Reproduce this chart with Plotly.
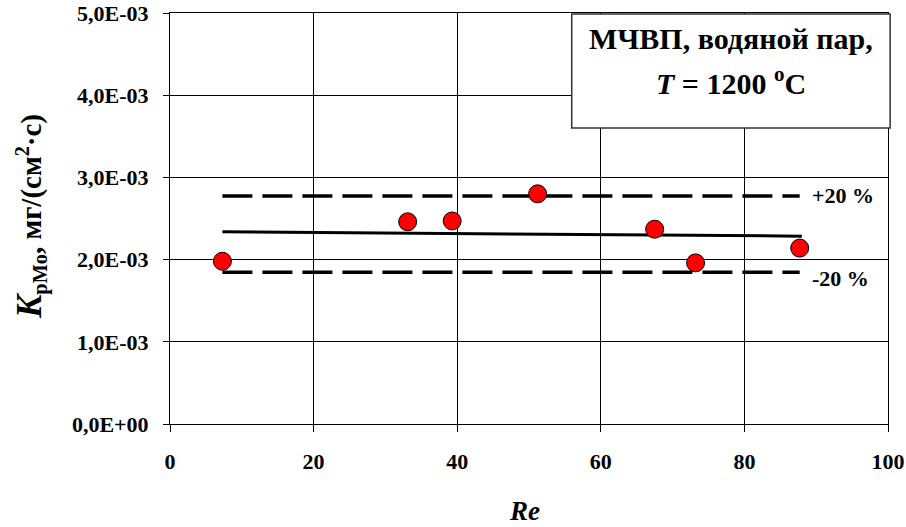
import plotly.graph_objects as go

# Data
re_vals = [7.3, 33.1, 39.3, 51.2, 67.5, 73.2, 87.7]
k_vals = [1.98e-3, 2.46e-3, 2.47e-3, 2.80e-3, 2.37e-3, 1.96e-3, 2.14e-3]

trend_x = [7.3, 88.0]
trend_y = [2.34e-3, 2.285e-3]

band_x = [7.3, 87.7]
upper_y = [2.775e-3, 2.775e-3]
lower_y = [1.845e-3, 1.845e-3]

x_ticks = [0, 20, 40, 60, 80, 100]
y_ticks = [0, 1e-3, 2e-3, 3e-3, 4e-3, 5e-3]
y_ticktext = ["0,0E+00", "1,0E-03", "2,0E-03", "3,0E-03", "4,0E-03", "5,0E-03"]

FONT = "Liberation Serif"

fig = go.Figure()

fig.add_trace(go.Scatter(x=band_x, y=upper_y, mode="lines",
                         line=dict(color="black", width=3.5, dash="30px,10px"),
                         showlegend=False, hoverinfo="skip"))
fig.add_trace(go.Scatter(x=band_x, y=lower_y, mode="lines",
                         line=dict(color="black", width=3.5, dash="30px,10px"),
                         showlegend=False, hoverinfo="skip"))
fig.add_trace(go.Scatter(x=trend_x, y=trend_y, mode="lines",
                         line=dict(color="black", width=3),
                         showlegend=False, hoverinfo="skip"))
fig.add_trace(go.Scatter(x=re_vals, y=k_vals, mode="markers",
                         marker=dict(color="#ff0000", size=18,
                                     line=dict(color="black", width=1)),
                         showlegend=False))

fig.update_xaxes(range=[0, 100], tickvals=x_ticks, automargin=False,
                 ticks="outside", ticklen=7, tickcolor="black",
                 showgrid=True, gridcolor="black", gridwidth=1,
                 showline=True, linecolor="black", linewidth=1, mirror=True,
                 zeroline=False, ticklabelstandoff=11,
                 tickfont=dict(family=FONT, size=22, color="black", weight="bold"))
fig.update_yaxes(range=[0, 0.005], tickvals=y_ticks, ticktext=y_ticktext, automargin=False,
                 ticks="outside", ticklen=6, tickcolor="black",
                 showgrid=True, gridcolor="black", gridwidth=1,
                 showline=True, linecolor="black", linewidth=1, mirror=True,
                 zeroline=False, ticklabelstandoff=10,
                 tickfont=dict(family=FONT, size=22, color="black", weight="bold"))

# Legend-like box
fig.add_shape(type="rect", xref="paper", yref="paper",
              x0=0.5595, x1=1.003, y0=0.720, y1=0.9976,
              fillcolor="white", line=dict(color="#333333", width=1.5), layer="above")

fig.add_annotation(xref="paper", yref="paper", x=0.781, y=0.937,
                   text="<b>МЧВП, водяной пар,</b>", showarrow=False,
                   xanchor="center", yanchor="middle",
                   font=dict(family=FONT, size=30, color="black"))
fig.add_annotation(xref="paper", yref="paper", x=0.781, y=0.835,
                   text="<b><i>T</i> = 1200 <sup>o</sup>C</b>", showarrow=False,
                   xanchor="center", yanchor="middle",
                   font=dict(family=FONT, size=30, color="black"))

fig.add_annotation(x=89.2, y=2.775e-3, text="<b>+20 %</b>", showarrow=False,
                   xanchor="left", yanchor="middle",
                   font=dict(family=FONT, size=22, color="black"))
fig.add_annotation(x=89.2, y=1.776e-3, text="<b>-20 %</b>", showarrow=False,
                   xanchor="left", yanchor="middle",
                   font=dict(family=FONT, size=22, color="black"))

fig.add_annotation(xref="paper", yref="paper", x=(524 - 170) / 718, y=(424 - 511) / 411,
                   text="<b><i>Re</i></b>", showarrow=False,
                   xanchor="center", yanchor="middle",
                   font=dict(family=FONT, size=27, color="black"))

fig.add_annotation(xref="paper", yref="paper", x=(31 - 170) / 718, y=(424 - 217) / 411,
                   text="<b><span style='font-size:35px'><i>K</i></span><sub>pMo</sub>, мг/(см<sup>2</sup>·с)</b>",
                   showarrow=False, textangle=-90,
                   xanchor="center", yanchor="middle",
                   font=dict(family=FONT, size=29, color="black"))

fig.update_layout(width=906, height=527,
                  margin=dict(l=170, r=18, t=13, b=103),
                  paper_bgcolor="white", plot_bgcolor="white",
                  showlegend=False)

fig.write_html("out.html")
